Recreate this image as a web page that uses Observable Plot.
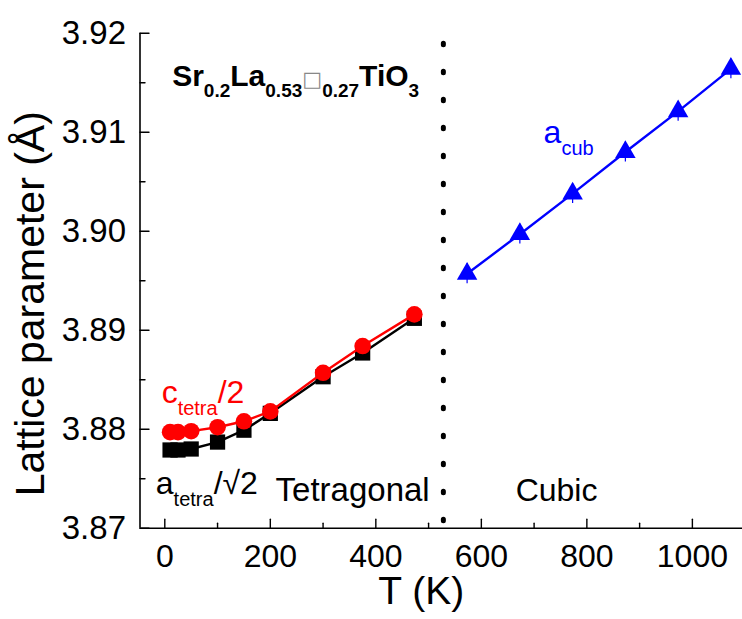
<!DOCTYPE html>
<html><head><meta charset="utf-8">
<script src="https://cdn.jsdelivr.net/npm/d3@7"></script>
<script src="https://cdn.jsdelivr.net/npm/@observablehq/plot@0.6"></script>
<style>
body{margin:0;background:#fff;}
#chart svg{display:block;}
</style></head><body><div id="chart"></div>
<script>
// ---- data ----
const tetraT = [10, 25, 50, 100, 150, 200, 300, 375, 473];
const cTetraHalf = [3.8797, 3.8797, 3.8798, 3.8802, 3.8808, 3.8818, 3.8857, 3.8884, 3.8916];
const aTetraRoot2 = [3.8779, 3.8779, 3.8780, 3.8787, 3.8799, 3.8816, 3.8853, 3.8877, 3.8912];
const cubicT = [573, 673, 773, 873, 973, 1073];
const aCub = [3.8957, 3.8997, 3.9038, 3.9080, 3.9121, 3.9164];
const aCubErr = [0.001, 0.001, 0.001, 0.001, 0.001, 0.001];
const transitionT = [528];
const xMajor = [0, 200, 400, 600, 800, 1000];
const xMinor = [100, 300, 500, 700, 900];
const yMajor = [3.87, 3.88, 3.89, 3.90, 3.91, 3.92];
const yMinor = [3.875, 3.885, 3.895, 3.905, 3.915];
const xLabel = "T (K)";
const yLabel = "Lattice parameter (Å)";
// annotations: text, anchor point in data units
const notes = [
  {key: "Sr0.2La0.53□0.27TiO3", T: 14, v: 3.9147, color: "#000", size: 30, weight: "bold",
   segs: [["Sr"], ["0.2", "sub"], ["La"], ["0.53", "sub"], ["□", "box"], ["0.27", "sub"], ["TiO"], ["3", "sub"]]},
  {key: "ctetra/2", T: -6, v: 3.8826, color: "#ff0000", size: 32, weight: "normal",
   segs: [["c"], ["tetra", "sub"], ["/2"]]},
  {key: "atetra/√2", T: -17, v: 3.8735, color: "#000", size: 32, weight: "normal",
   segs: [["a"], ["tetra", "sub"], ["/√2"]]},
  {key: "acub", T: 718, v: 3.9089, color: "#0000ff", size: 32, weight: "normal",
   segs: [["a"], ["cub", "sub"]]},
  {key: "Tetragonal", T: 210, v: 3.8727, color: "#000", size: 33, weight: "normal", segs: null},
  {key: "Cubic", T: 665, v: 3.8727, color: "#000", size: 32, weight: "normal", segs: null}
];

const tetra = tetraT.map((T, i) => ({T, c: cTetraHalf[i], a: aTetraRoot2[i]}));
const cub = cubicT.map((T, i) => ({T, a: aCub[i], e: aCubErr[i]}));

const tickShape = {draw(ctx, l) { ctx.moveTo(0, 0); ctx.lineTo(0, -l); }};
const font = "'Liberation Sans', Arial, sans-serif";

const plot = Plot.plot({
  width: 742, height: 619,
  marginLeft: 139.5, marginRight: 0, marginTop: 32.7, marginBottom: 91.3,
  x: {domain: [-47, 1095]},
  y: {domain: [3.87, 3.92]},
  style: {fontFamily: font, background: "white", color: "black", overflow: "visible"},
  marks: [
    // axis lines
    Plot.ruleY([3.87], {stroke: "#000", strokeWidth: 1.6}),
    Plot.ruleX([-47], {stroke: "#000", strokeWidth: 1.6}),
    // ticks (inward)
    Plot.vector(xMajor, {x: d => d, frameAnchor: "bottom", length: 9, rotate: 0, anchor: "start", shape: tickShape, stroke: "#000", strokeWidth: 1.4}),
    Plot.vector(xMinor, {x: d => d, frameAnchor: "bottom", length: 5, rotate: 0, anchor: "start", shape: tickShape, stroke: "#000", strokeWidth: 1.4}),
    Plot.vector(yMajor, {y: d => d, frameAnchor: "left", length: 9, rotate: 90, anchor: "start", shape: tickShape, stroke: "#000", strokeWidth: 1.4}),
    Plot.vector(yMinor, {y: d => d, frameAnchor: "left", length: 5, rotate: 90, anchor: "start", shape: tickShape, stroke: "#000", strokeWidth: 1.4}),
    // tick labels
    Plot.axisX(xMajor, {tickSize: 0, tickPadding: 16, fontSize: 32, label: null, tickFormat: d => String(d)}),
    Plot.axisY(yMajor, {tickSize: 0, tickPadding: 14, fontSize: 33, label: null, tickFormat: d3.format(".2f")}),
    // axis titles
    Plot.text([xLabel], {frameAnchor: "bottom", dx: -20, dy: 76, lineAnchor: "bottom", fontSize: 39, fill: "#000"}),
    Plot.text([yLabel], {frameAnchor: "left", dx: -109, dy: 23, rotate: -90, textAnchor: "middle", lineAnchor: "middle", fontSize: 41, fill: "#000"}),
    // transition dotted line
    Plot.ruleX(transitionT, {y1: 3.87, y2: 3.92, stroke: "#000", strokeWidth: 5, strokeLinecap: "round", strokeDasharray: "1.5 26.5", strokeDashoffset: 21}),
    // tetragonal series
    Plot.line(tetra, {x: "T", y: "a", stroke: "#000", strokeWidth: 2.4}),
    Plot.dot(tetra, {x: "T", y: "a", symbol: "square", r: 8.6, fill: "#000", stroke: "none"}),
    Plot.line(tetra, {x: "T", y: "c", stroke: "#ff0000", strokeWidth: 2.4}),
    Plot.dot(tetra, {x: "T", y: "c", symbol: "circle", r: 8.3, fill: "#ff0000", stroke: "none"}),
    // cubic series
    Plot.ruleX(cub, {x: "T", y1: d => d.a - d.e, y2: d => d.a + d.e, stroke: "#0000ff", strokeWidth: 1.2}),
    Plot.line(cub, {x: "T", y: "a", stroke: "#0000ff", strokeWidth: 2.4}),
    Plot.dot(cub, {x: "T", y: "a", symbol: "triangle", r: 7.6, fill: "#0000ff", stroke: "none"}),
    // annotations
    ...notes.map(n => Plot.text([n], {x: "T", y: "v", text: "key", textAnchor: "start", lineAnchor: "bottom",
      fontSize: n.size, fontWeight: n.weight, fill: n.color}))
  ]
});

// rich text (subscripts) for annotations
const SVGNS = "http://www.w3.org/2000/svg";
for (const n of notes) {
  if (!n.segs) continue;
  const t = Array.from(plot.querySelectorAll("text")).find(e => e.textContent === n.key);
  if (!t) continue;
  t.textContent = "";
  const subSize = Math.round(n.size * 0.63);
  const shift = Math.round(n.size * 0.36);
  let cur = 0;
  for (const [s, kind] of n.segs) {
    const ts = document.createElementNS(SVGNS, "tspan");
    const target = kind === "sub" ? shift : 0;
    if (target !== cur) ts.setAttribute("dy", target - cur);
    cur = target;
    if (kind === "sub") ts.setAttribute("font-size", subSize);
    if (kind === "box") {
      ts.setAttribute("font-size", 21);
      ts.setAttribute("font-weight", "normal");
      ts.setAttribute("fill", "#888");
      ts.setAttribute("font-family", "'DejaVu Sans'");
    }
    ts.textContent = s;
    t.appendChild(ts);
  }
}
document.getElementById("chart").appendChild(plot);
</script>
</body></html>
